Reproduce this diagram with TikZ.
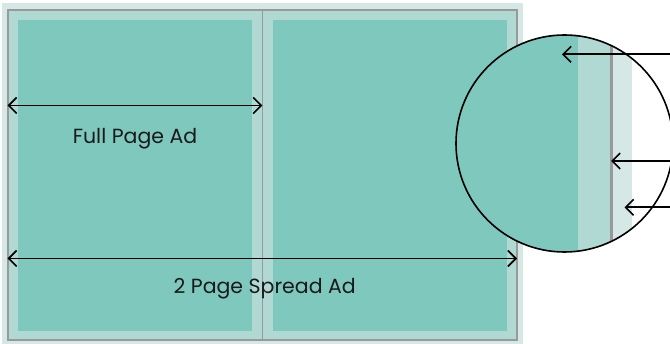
\documentclass[tikz,border=0pt]{standalone}
\usepackage{fontspec}
\setmainfont{Poppins}
\usetikzlibrary{arrows.meta}
\definecolor{bleedc}{HTML}{D5E8E5}
\definecolor{trimc}{HTML}{B0D9D4}
\definecolor{livec}{HTML}{7FC8BD}
\definecolor{edgec}{HTML}{999999}
\definecolor{inkc}{HTML}{1A1A1A}
\tikzset{
  dim/.style={draw=black, line width=1.6pt, {Straight Barb[length=8pt,width=16pt]}-{Straight Barb[length=8pt,width=16pt]}},
  ptr/.style={draw=black, line width=1.6pt, -{Straight Barb[length=8pt,width=16pt]}},
  lbl/.style={font=\fontsize{20.5}{22}\selectfont, text=inkc, anchor=base, inner sep=0pt},
  edge/.style={draw=edgec, line width=1.4pt}
}
\begin{document}
\begin{tikzpicture}[x=1pt,y=-1pt]
\useasboundingbox (0,0) rectangle (670,344);
% bleed
\fill[bleedc] (2,3) rectangle (523,344);
% trim
\fill[trimc] (8,10) rectangle (517,340);
\draw[edge] (8,10) rectangle (517,340);
% live pages
\fill[livec] (18,20) rectangle (252,331);
\fill[livec] (273,20) rectangle (507,331);
% spine
\draw[edge] (262.3,10) -- (262.3,340);
% labels
\node[lbl] (full) at (135,143.3) {Full Page Ad};
\node[lbl] (spread) at (264.7,294) {2 Page Spread Ad};
% dimension arrows
\coordinate (fl) at (7.5,105.5);
\coordinate (fr) at (262.3,105.5);
\draw[dim] (fl) -- (fr);
\coordinate (sl) at (7.5,258.5);
\coordinate (sr) at (517,258.5);
\draw[dim] (sl) -- (sr);
% magnifier
\coordinate (mc) at (564.5,143.5);
\begin{scope}
  \clip (mc) circle (108.5);
  \fill[white] (mc) circle (108.5);
  \fill[livec] (440,0) rectangle (578,344);
  \fill[trimc] (578,0) rectangle (609.5,344);
  \fill[edgec] (609.5,0) rectangle (612.5,344);
  \fill[bleedc] (612.5,0) rectangle (632,344);
\end{scope}
\draw[black, line width=1.6pt] (mc) circle (108.5);
% pointer arrows
\coordinate (a1s) at (672,54.3);
\coordinate (a1e) at (562,54.3);
\coordinate (a2s) at (672,161);
\coordinate (a2e) at (611,161);
\coordinate (a3s) at (672,207.3);
\coordinate (a3e) at (624.5,207.3);
\draw[ptr] (a1s) -- (a1e);
\draw[ptr] (a2s) -- (a2e);
\draw[ptr] (a3s) -- (a3e);
\end{tikzpicture}
\end{document}
